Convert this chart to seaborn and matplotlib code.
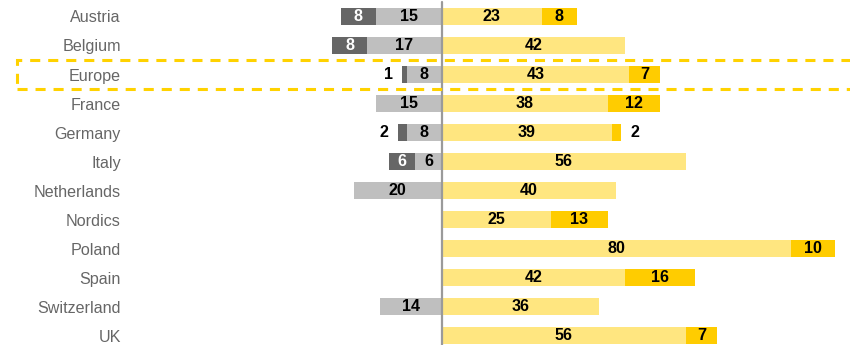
import matplotlib
matplotlib.use("Agg")
import matplotlib.pyplot as plt
import seaborn as sns
import pandas as pd
from matplotlib.patches import Rectangle

# Survey balance by market: share of strongly negative / negative / positive / strongly positive answers
markets = ["Austria", "Belgium", "Europe", "France", "Germany", "Italy",
           "Netherlands", "Nordics", "Poland", "Spain", "Switzerland", "UK"]
strong_neg = [8, 8, 1, 0, 2, 6, 0, 0, 0, 0, 0, 0]
neg = [15, 17, 8, 15, 8, 6, 20, 0, 0, 0, 14, 0]
pos = [23, 42, 43, 38, 39, 56, 40, 25, 80, 42, 36, 56]
strong_pos = [8, 0, 7, 12, 2, 0, 0, 13, 10, 16, 0, 7]
highlight = "Europe"

C_DARK = "#666666"
C_GREY = "#BFBFBF"
C_YEL = "#FFE680"
C_GOLD = "#FFCC00"

sns.set_style("white")
plt.rcParams["font.family"] = ["Liberation Sans", "DejaVu Sans"]

df = pd.DataFrame({"market": markets, "sn": strong_neg, "n": neg,
                   "p": pos, "sp": strong_pos})
df["left_total"] = -(df["sn"] + df["n"])
df["left_inner"] = -df["n"]
df["right_total"] = df["p"] + df["sp"]
df["right_inner"] = df["p"]

W, H = 850, 345
fig = plt.figure(figsize=(W / 100, H / 100), dpi=100)
ax_left_px = 125
ax = fig.add_axes([ax_left_px / W, 0, 1 - ax_left_px / W, 1])

bar_w = 0.57
# stacked bars drawn as overlapping cumulative bars (outer first, inner on top)
for col, colr in [("left_total", C_DARK), ("left_inner", C_GREY),
                  ("right_total", C_GOLD), ("right_inner", C_YEL)]:
    sns.barplot(data=df, x=col, y="market", order=markets, orient="h",
                color=colr, saturation=1, width=bar_w, errorbar=None,
                linewidth=0, ax=ax)

px_per_unit = 4.37
zero_px = 441.5
ax.set_xlim(-(zero_px - ax_left_px) / px_per_unit, (W - zero_px) / px_per_unit)
ax.set_ylim(11 + (H - 335.5) / 29.0, -16.5 / 29.0)

ax.axvline(0, ymin=0, ymax=(H - 2) / H, color="#9A9A9A", lw=1.6, zorder=5)

fs = 11.6
off = 2.2
for i, r in df.iterrows():
    sn, n, p, sp = r["sn"], r["n"], r["p"], r["sp"]
    if n > 0:
        ax.text(-n / 2, i, f"{n}", ha="center", va="center", fontsize=fs,
                fontweight="bold", color="black", zorder=6)
    if sn > 0:
        if sn >= 3:
            ax.text(-n - sn / 2, i, f"{sn}", ha="center", va="center",
                    fontsize=fs, fontweight="bold", color="white", zorder=6)
        else:
            ax.text(-n - sn - off, i, f"{sn}", ha="right", va="center",
                    fontsize=fs, fontweight="bold", color="black", zorder=6)
    if p > 0:
        ax.text(p / 2, i, f"{p}", ha="center", va="center", fontsize=fs,
                fontweight="bold", color="black", zorder=6)
    if sp > 0:
        if sp >= 3:
            ax.text(p + sp / 2, i, f"{sp}", ha="center", va="center",
                    fontsize=fs, fontweight="bold", color="black", zorder=6)
        else:
            ax.text(p + sp + off, i, f"{sp}", ha="left", va="center",
                    fontsize=fs, fontweight="bold", color="black", zorder=6)

ax.set_xlabel("")
ax.set_ylabel("")
ax.set_xticks([])
ax.tick_params(axis="y", length=0, pad=3, labelsize=fs, labelcolor="#666666")
for s in ax.spines.values():
    s.set_visible(False)

# dashed frame around the highlighted row
hi = markets.index(highlight)
row_top = 16.5 + 29.0 * hi - 14.5
rect = Rectangle((17 / W, 1 - (row_top + 29) / H), 1.0, 29 / H,
                 transform=fig.transFigure, fill=False, edgecolor="#FFD200",
                 lw=2.2, linestyle=(0, (3.3, 2.6)), clip_on=False, zorder=10)
fig.patches.append(rect)

fig.savefig("out.png", dpi=100)
